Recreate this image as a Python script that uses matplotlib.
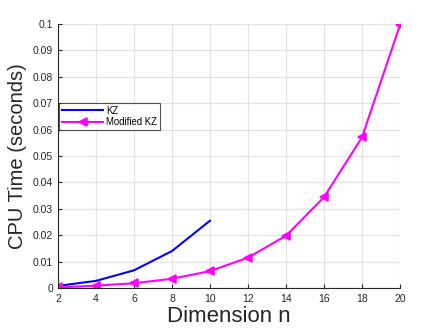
import matplotlib
matplotlib.use("Agg")
import matplotlib.pyplot as plt

plt.rcParams['font.family'] = ['Liberation Sans', 'DejaVu Sans']

n_kz = [2, 4, 6, 8, 10]
time_kz = [0.0008, 0.0027, 0.0067, 0.0140, 0.0255]
n_mkz = [2, 4, 6, 8, 10, 12, 14, 16, 18, 20]
time_mkz = [0.0002, 0.0009, 0.0018, 0.0035, 0.0064, 0.0115, 0.0198, 0.0344, 0.0571, 0.0996]
xticks = [2, 4, 6, 8, 10, 12, 14, 16, 18, 20]
yticks = [0, 0.01, 0.02, 0.03, 0.04, 0.05, 0.06, 0.07, 0.08, 0.09, 0.1]
ytick_labels = ['0', '0.01', '0.02', '0.03', '0.04', '0.05', '0.06', '0.07', '0.08', '0.09', '0.1']

fig = plt.figure(figsize=(4.43, 3.32), dpi=100)
ax = fig.add_axes([58/443, 1-288/332, 342/443, 264/332])

ax.plot(n_kz, time_kz, color='#0000ff', lw=1.5, label='KZ')
ax.plot(n_mkz, time_mkz, color='#ff00ff', lw=1.5, marker='<', ms=5.5, mew=1.2, label='Modified KZ')

ax.set_xlim(2, 20)
ax.set_ylim(0, 0.1)
ax.set_xticks(xticks)
ax.set_yticks(yticks)
ax.set_yticklabels(ytick_labels)
ax.tick_params(direction='in', length=3, labelsize=7.5, colors='#262626', width=0.8)
ax.tick_params(axis='x', pad=4)
ax.grid(True, color='#e3e3e3', lw=0.9)
ax.set_axisbelow(True)
for s in ['top', 'right']:
    ax.spines[s].set_visible(False)
for s in ['left', 'bottom']:
    ax.spines[s].set_color('#262626')
    ax.spines[s].set_linewidth(0.8)

ax.set_xlabel('Dimension n', fontsize=16, color='#262626', labelpad=2)
ax.set_ylabel('CPU Time (seconds)', fontsize=14.5, color='#262626', labelpad=4)

leg = ax.legend(loc='upper left', bbox_to_anchor=(0.003, 0.702), fontsize=6.9,
                frameon=True, fancybox=False, edgecolor='#262626', handlelength=4.3,
                borderpad=0.3, labelspacing=0.2, handletextpad=0.3, borderaxespad=0)
leg.get_frame().set_linewidth(0.8)

fig.savefig('out.png', dpi=100)
